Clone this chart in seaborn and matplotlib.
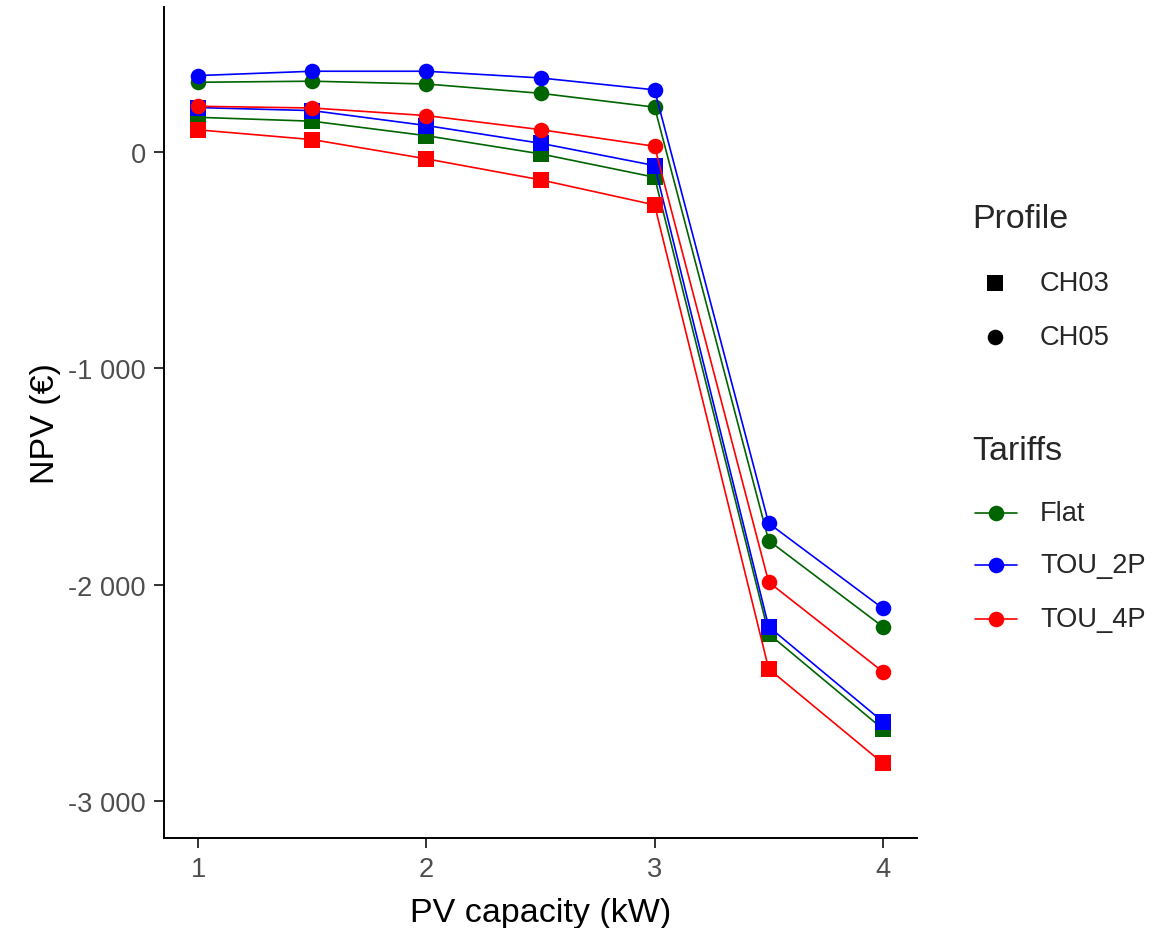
import matplotlib
matplotlib.use("Agg")
import matplotlib.pyplot as plt
from matplotlib.lines import Line2D
from matplotlib.ticker import FuncFormatter
import numpy as np
import pandas as pd
import seaborn as sns

# PV capacity steps (kW)
capacity = [1.0, 1.5, 2.0, 2.5, 3.0, 3.5, 4.0]

# NPV (EUR) per tariff and consumption profile
npv_ch03_flat = [160, 142, 75, -9, -117, -2228, -2668]
npv_ch03_tou2p = [205, 191, 122, 40, -63, -2195, -2634]
npv_ch03_tou4p = [102, 57, -32, -129, -245, -2390, -2826]
npv_ch05_flat = [322, 327, 314, 271, 207, -1797, -2195]
npv_ch05_tou2p = [353, 373, 373, 342, 287, -1717, -2110]
npv_ch05_tou4p = [211, 203, 168, 103, 26, -1989, -2403]

tariffs = ["Flat", "TOU_2P", "TOU_4P"]
profiles = ["CH03", "CH05"]
tariff_colors = {"Flat": "#006400", "TOU_2P": "#0000FF", "TOU_4P": "#FF0000"}
profile_markers = {"CH03": "s", "CH05": "o"}

series = {
    ("CH03", "Flat"): npv_ch03_flat,
    ("CH03", "TOU_2P"): npv_ch03_tou2p,
    ("CH03", "TOU_4P"): npv_ch03_tou4p,
    ("CH05", "Flat"): npv_ch05_flat,
    ("CH05", "TOU_2P"): npv_ch05_tou2p,
    ("CH05", "TOU_4P"): npv_ch05_tou4p,
}

rows = []
for (prof, tar), vals in series.items():
    for c, v in zip(capacity, vals):
        rows.append({"capacity": c, "npv": v, "Profile": prof, "Tariffs": tar})
df = pd.DataFrame(rows)

sns.set_theme(style="white")
plt.rcParams["font.family"] = ["Liberation Sans", "DejaVu Sans"]

W, H = 1165, 929
MS = 11.2
LW = 1.2
fig = plt.figure(figsize=(W / 100, H / 100), dpi=100)
ax_l, ax_r, ax_t, ax_b = 164, 917, 8, 839
ax = fig.add_axes([ax_l / W, 1 - ax_b / H, (ax_r - ax_l) / W, (ax_b - ax_t) / H])

sns.lineplot(
    data=df, x="capacity", y="npv", hue="Tariffs", style="Profile",
    hue_order=tariffs, style_order=profiles, palette=tariff_colors,
    markers=profile_markers, dashes=False, errorbar=None, legend=False,
    linewidth=LW, markersize=MS, markeredgewidth=0, ax=ax,
)

ax.set_xlim(0.85, 4.15)
ax.set_ylim(-3172, 670)
ax.set_xticks([1, 2, 3, 4])
ax.set_yticks([-3000, -2000, -1000, 0])
ax.xaxis.set_major_formatter(FuncFormatter(lambda v, p: f"{int(v)}"))
ax.yaxis.set_major_formatter(
    FuncFormatter(lambda v, p: f"{int(v):,}".replace(",", " ")))

for side in ["top", "right"]:
    ax.spines[side].set_visible(False)
for side in ["left", "bottom"]:
    ax.spines[side].set_color("black")
    ax.spines[side].set_linewidth(1.4)

ax.tick_params(axis="both", which="major", length=7, width=1.4,
               color="#333333", labelsize=19.6, labelcolor="#4D4D4D",
               pad=6, left=True, bottom=True)
ax.set_xlabel("PV capacity (kW)", fontsize=24.5, color="black", labelpad=11)
ax.set_ylabel("NPV (€)", fontsize=24.5, color="black", labelpad=5)
ax.grid(False)


def fx(px):
    return px / W


def fy(py):
    return 1 - py / H


# Legend: Profile (shapes)
fig.text(fx(972), fy(220), "Profile", fontsize=24.5, va="center", ha="left")
for py, prof in [(284, "CH03"), (338, "CH05")]:
    fig.add_artist(Line2D([fx(995)], [fy(py)], marker=profile_markers[prof],
                          color="black", markersize=MS, markeredgewidth=0,
                          linestyle="none", transform=fig.transFigure))
    fig.text(fx(1040), fy(py), prof, fontsize=19.6, va="center", ha="left")

# Legend: Tariffs (colours)
fig.text(fx(972), fy(452), "Tariffs", fontsize=24.5, va="center", ha="left")
for py, tar in [(514, "Flat"), (566, "TOU_2P"), (620, "TOU_4P")]:
    fig.add_artist(Line2D([fx(975), fx(1017)], [fy(py), fy(py)],
                          color=tariff_colors[tar], linewidth=LW,
                          transform=fig.transFigure))
    fig.add_artist(Line2D([fx(996)], [fy(py)], marker="o",
                          color=tariff_colors[tar], markersize=MS,
                          markeredgewidth=0, linestyle="none",
                          transform=fig.transFigure))
    fig.text(fx(1040), fy(py), tar, fontsize=19.6, va="center", ha="left")

fig.savefig("out.png", dpi=100, facecolor="white")
